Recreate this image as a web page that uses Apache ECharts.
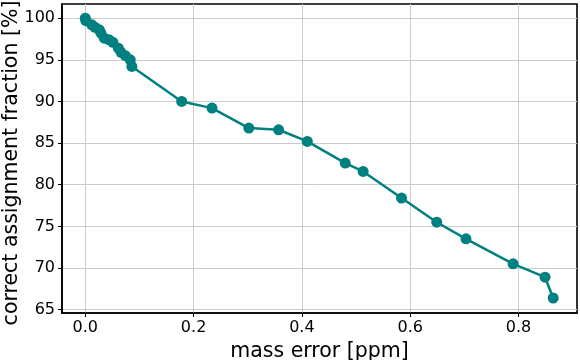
<!DOCTYPE html>
<html>
<head>
<meta charset="utf-8">
<script src="https://cdn.jsdelivr.net/npm/echarts@6/dist/echarts.min.js"></script>
<style>html,body{margin:0;padding:0;background:#fff}#c{width:580px;height:360px}</style>
</head>
<body>
<div id="c"></div>
<script>
const massError = [0.000, 0.001, 0.012, 0.018, 0.026, 0.029, 0.035, 0.044, 0.051, 0.061, 0.066, 0.074, 0.083, 0.086,
  0.178, 0.234, 0.302, 0.357, 0.410, 0.480, 0.513, 0.584, 0.649, 0.703, 0.790, 0.849, 0.864];
const correctFraction = [100.0, 99.7, 99.2, 98.9, 98.6, 98.2, 97.6, 97.4, 97.1, 96.4, 95.9, 95.5, 95.0, 94.2,
  90.0, 89.2, 86.8, 86.6, 85.2, 82.6, 81.6, 78.4, 75.5, 73.5, 70.5, 68.9, 66.4];
const xTicks = [0.0, 0.2, 0.4, 0.6, 0.8];
const yTicks = [65, 70, 75, 80, 85, 90, 95, 100];
const xTitle = 'mass error [ppm]';
const yTitle = 'correct assignment fraction [%]';

const font = 'DejaVu Sans';
const chart = echarts.init(document.getElementById('c'), null, {renderer: 'canvas'});
chart.setOption({
  animation: false,
  backgroundColor: '#fff',
  grid: {left: 62, right: 3, top: 4, bottom: 47, outerBoundsMode: 'none', containLabel: false,
    show: true, borderColor: '#000', borderWidth: 1.6, backgroundColor: 'transparent'},
  graphic: [{
    type: 'text', x: 12, y: 163, rotation: Math.PI / 2,
    style: {text: yTitle, fontFamily: font, fontSize: 20.5, fill: '#000', align: 'center', verticalAlign: 'middle'}
  }],
  xAxis: {
    type: 'value', min: -0.043, max: 0.908,
    name: xTitle, nameLocation: 'middle', nameGap: 13,
    nameTextStyle: {fontFamily: font, fontSize: 20.5, color: '#000', verticalAlign: 'top'},
    axisLine: {show: true, onZero: false, lineStyle: {color: '#000', width: 1.6}},
    axisTick: {show: true, length: 4, customValues: xTicks, lineStyle: {color: '#000', width: 1}},
    axisLabel: {customValues: xTicks, margin: 7, fontFamily: font, fontSize: 16, color: '#000',
      formatter: v => v.toFixed(1)},
    splitLine: {show: true, lineStyle: {color: '#cccccc', width: 1}}
  },
  yAxis: {
    type: 'value', min: 64.6, max: 101.7,
    axisLine: {show: true, onZero: false, lineStyle: {color: '#000', width: 1.6}},
    axisTick: {show: true, length: 4, customValues: yTicks, lineStyle: {color: '#000', width: 1}},
    axisLabel: {customValues: yTicks, margin: 7, fontFamily: font, fontSize: 16, color: '#000'},
    splitLine: {show: true, lineStyle: {color: '#cccccc', width: 1}}
  },
  series: [{
    type: 'line',
    data: massError.map((x, i) => [x, correctFraction[i]]),
    symbol: 'circle', symbolSize: 11,
    lineStyle: {color: '#008080', width: 2.5},
    itemStyle: {color: '#008080'},
    z: 5
  }]
});
</script>
</body>
</html>
